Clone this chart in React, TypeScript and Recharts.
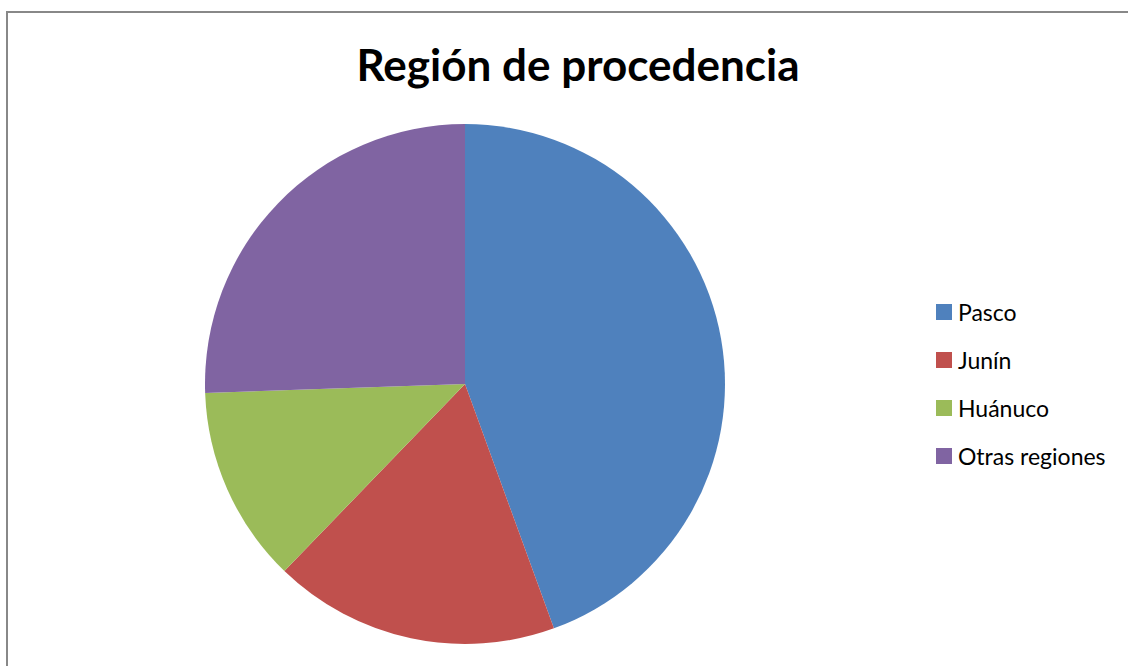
import React from "react";
import { PieChart, Pie, Cell, Legend } from "recharts";

const categories = ["Pasco", "Junín", "Huánuco", "Otras regiones"];
const values = [40, 16, 11, 23];
const colors = ["#4F81BD", "#C0504D", "#9BBB59", "#8064A2"];
const title = "Región de procedencia";

const data = categories.map((name, i) => ({ name, value: values[i] }));

const FONT = "Lato, 'Open Sans', 'DejaVu Sans', sans-serif";

const renderLegend = () => (
  <div style={{ fontFamily: FONT }}>
    {data.map((d, i) => (
      <div
        key={d.name}
        style={{ display: "flex", alignItems: "center", height: 48, fontSize: 23, color: "#000" }}
      >
        <span style={{ width: 16, height: 16, background: colors[i], display: "inline-block", marginRight: 6 }} />
        <span>{d.name}</span>
      </div>
    ))}
  </div>
);

export default function App() {
  return (
    <div style={{ position: "fixed", left: 0, top: 0, width: 1128, height: 666, overflow: "hidden", background: "#fff" }}>
      <div style={{ position: "absolute", left: 6, top: 11, width: 1200, height: 700, border: "2px solid #888", boxSizing: "border-box" }} />
      <div
        style={{
          position: "absolute",
          left: 0,
          width: 1156,
          top: 36,
          textAlign: "center",
          fontFamily: FONT,
          fontWeight: 700,
          fontSize: 44,
          color: "#000",
          lineHeight: "56px",
        }}
      >
        {title}
      </div>
      <div style={{ position: "absolute", left: 0, top: 0 }}>
        <PieChart width={1128} height={666} margin={{ top: 0, right: 0, bottom: 0, left: 0 }}>
          <Pie
            data={data}
            dataKey="value"
            nameKey="name"
            cx={465}
            cy={384}
            outerRadius={260}
            startAngle={90}
            endAngle={-270}
            stroke="none"
            isAnimationActive={false}
          >
            {data.map((d, i) => (
              <Cell key={d.name} fill={colors[i]} />
            ))}
          </Pie>
          <Legend
            layout="vertical"
            align="right"
            verticalAlign="top"
            content={renderLegend}
            wrapperStyle={{ left: 936, top: 288, width: 190 }}
          />
        </PieChart>
      </div>
    </div>
  );
}
